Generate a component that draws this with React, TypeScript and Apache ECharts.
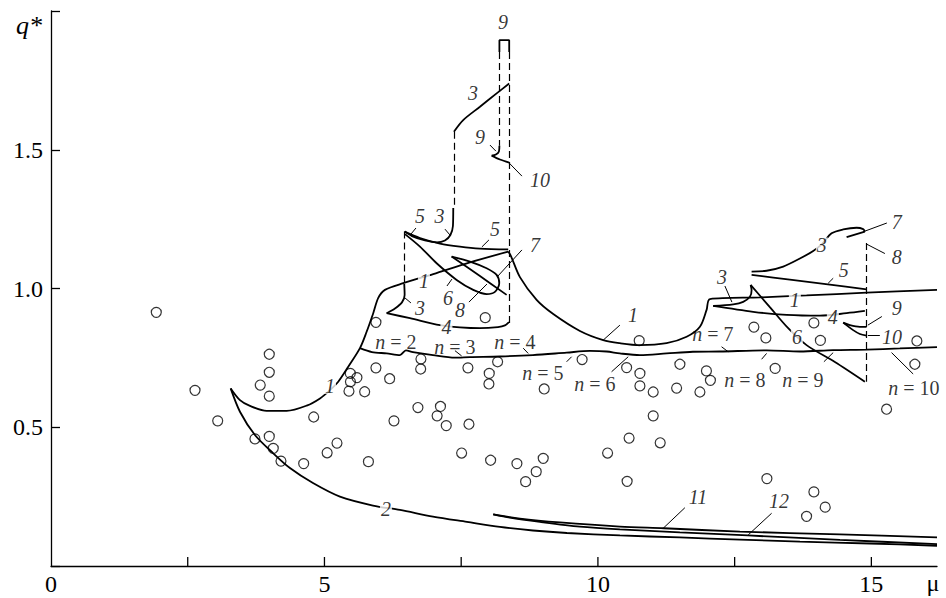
import React, { useEffect, useRef } from "react";
import * as echarts from "echarts";

type Pt = [number, number];

const MU_MAX = 16.2;
const Q_MAX = 2;

const X_TICKS = [2.5, 5, 7.5, 10, 12.5, 15];
const X_TICK_LABELS = [0, 5, 10, 15];
const Y_TICK_LABELS = [0.5, 1, 1.5];

// measured q* values
const OBSERVED: Pt[] = [
  [1.925, 0.914], [2.633, 0.633], [3.048, 0.523], [3.991, 0.763], [3.991, 0.698],
  [3.826, 0.652], [3.991, 0.612], [4.803, 0.537], [3.729, 0.458], [3.991, 0.467],
  [4.064, 0.424], [4.205, 0.378], [4.62, 0.369], [5.229, 0.443], [5.049, 0.408],
  [5.804, 0.376], [6.271, 0.523], [5.472, 0.694], [5.594, 0.679], [5.475, 0.664],
  [5.448, 0.63], [5.735, 0.628], [5.941, 0.714], [6.192, 0.675], [5.941, 0.878],
  [6.764, 0.746], [6.759, 0.71], [7.623, 0.714], [8.013, 0.694], [8.007, 0.656],
  [8.166, 0.736], [7.94, 0.895], [9.018, 0.638], [9.711, 0.744], [6.709, 0.571],
  [7.121, 0.575], [7.06, 0.541], [7.227, 0.506], [7.642, 0.511], [7.508, 0.407],
  [8.038, 0.381], [8.519, 0.369], [9.0, 0.388], [8.872, 0.34], [8.678, 0.304],
  [10.177, 0.407], [10.755, 0.812], [10.525, 0.715], [10.768, 0.694], [11.499, 0.727],
  [11.984, 0.703], [12.057, 0.669], [10.768, 0.649], [11.011, 0.627], [11.439, 0.641],
  [11.865, 0.627], [12.852, 0.861], [13.071, 0.822], [13.949, 0.876], [14.068, 0.813],
  [15.832, 0.811], [15.795, 0.727], [13.241, 0.712], [11.011, 0.541], [10.57, 0.461],
  [11.139, 0.444], [15.278, 0.565], [10.534, 0.305], [13.09, 0.315], [13.949, 0.267],
  [14.156, 0.212], [13.815, 0.179],
];

// computed branches
const CURVE_1A: Pt[] = [
  [3.285, 0.64], [3.455, 0.598], [3.638, 0.577], [3.943, 0.559], [4.309, 0.559],
  [4.675, 0.578], [4.918, 0.604], [5.101, 0.634], [5.252, 0.664], [5.435, 0.718],
  [5.649, 0.785], [5.771, 0.844], [5.892, 0.911], [5.984, 0.966], [6.106, 0.995],
  [6.441, 1.019], [6.989, 1.052], [7.66, 1.094], [8.36, 1.133],
];
const CURVE_1B: Pt[] = [
  [8.36, 1.133], [8.41, 1.117], [8.574, 1.041], [8.879, 0.959], [9.183, 0.908],
  [9.671, 0.847], [10.097, 0.814], [10.402, 0.803], [10.768, 0.796], [11.256, 0.803],
  [11.622, 0.826], [11.865, 0.862], [11.987, 0.923], [12.048, 0.962], [12.962, 0.968],
  [13.815, 0.975], [14.912, 0.985], [16.2, 0.995],
];
const CURVE_2: Pt[] = [
  [3.285, 0.64], [3.455, 0.556], [3.729, 0.472], [4.059, 0.407], [4.369, 0.353],
  [4.79, 0.299], [5.283, 0.25], [5.887, 0.218], [6.38, 0.202], [6.984, 0.178],
  [7.605, 0.159], [8.208, 0.141], [8.812, 0.128], [9.433, 0.119], [10.402, 0.11],
  [11.499, 0.103], [12.596, 0.095], [13.693, 0.088], [14.973, 0.081], [16.2, 0.073],
];
const CURVE_3A: Pt[] = [[6.459, 1.016], [6.466, 0.977], [6.417, 0.95], [6.289, 0.928], [6.137, 0.911]];
const CURVE_3B: Pt[] = [[7.367, 1.565], [7.537, 1.607], [7.843, 1.655], [8.148, 1.703], [8.378, 1.739]];
const CURVE_3C: Pt[] = [
  [7.355, 1.29], [7.349, 1.225], [7.303, 1.193], [7.203, 1.173], [7.057, 1.166],
  [6.837, 1.173], [6.6, 1.189], [6.466, 1.205],
];
const CURVE_3D: Pt[] = [[12.108, 0.937], [12.474, 0.943], [12.656, 0.952], [12.779, 0.97], [12.81, 0.995], [12.792, 1.013]];
const CURVE_3E: Pt[] = [
  [12.81, 1.061], [13.084, 1.064], [13.388, 1.079], [13.693, 1.108], [13.936, 1.135],
  [14.095, 1.16], [14.272, 1.199], [14.485, 1.213], [14.729, 1.219], [14.85, 1.214], [14.881, 1.205],
];
const CURVE_4A: Pt[] = [
  [6.137, 0.911], [6.563, 0.893], [7.112, 0.868], [7.477, 0.86], [7.843, 0.857],
  [8.172, 0.861], [8.3, 0.867], [8.373, 0.879],
];
const CURVE_4B: Pt[] = [[12.108, 0.937], [12.839, 0.916], [13.45, 0.905], [14.059, 0.902], [14.547, 0.911], [14.881, 0.919]];
const CURVE_5A: Pt[] = [[6.466, 1.205], [6.746, 1.182], [7.112, 1.162], [7.477, 1.151], [7.843, 1.144], [8.36, 1.141]];
const CURVE_5B: Pt[] = [[12.81, 1.049], [13.51, 1.032], [14.241, 1.014], [14.912, 0.997]];
const CURVE_6A: Pt[] = [
  [6.472, 1.196], [6.746, 1.151], [7.051, 1.091], [7.417, 1.031], [7.72, 0.995],
  [7.965, 0.98], [8.117, 0.988], [8.196, 1.019], [8.148, 1.049], [7.965, 1.073],
  [7.66, 1.097], [7.325, 1.115],
];
const CURVE_6B: Pt[] = [[12.792, 1.013], [13.144, 0.933], [13.479, 0.857], [13.815, 0.796], [14.333, 0.735], [14.881, 0.664]];
const CURVE_7B: Pt[] = [[14.881, 1.205], [14.547, 1.185]];
const CURVE_8A: Pt[] = [[7.325, 1.115], [7.843, 1.045], [8.331, 0.977]];
const CURVE_9A: Pt[] = [[8.199, 1.514], [8.19, 1.494], [8.135, 1.483], [8.057, 1.479]];
const CURVE_9B: Pt[] = [[14.485, 0.877], [14.607, 0.868], [14.79, 0.862], [14.912, 0.862]];
const CURVE_10A: Pt[] = [[8.057, 1.479], [8.208, 1.465], [8.378, 1.454]];
const CURVE_10B: Pt[] = [[14.485, 0.877], [14.667, 0.85], [14.79, 0.836], [14.912, 0.83]];
const CURVE_11: Pt[] = [
  [8.086, 0.186], [8.574, 0.171], [9.305, 0.157], [10.402, 0.142], [11.207, 0.136],
  [12.596, 0.124], [14.424, 0.114], [16.2, 0.103],
];
const CURVE_12: Pt[] = [
  [8.086, 0.186], [8.391, 0.174], [8.94, 0.159], [9.671, 0.142], [10.402, 0.132],
  [11.499, 0.121], [12.742, 0.11], [14.424, 0.094], [16.2, 0.079],
];
// boundary of the n = 2 ... 10 modes
const MODE_LINE: Pt[] = [
  [5.649, 0.785], [5.868, 0.771], [6.137, 0.766], [6.38, 0.76], [6.49, 0.777],
  [6.618, 0.771], [6.984, 0.76], [7.386, 0.751], [7.66, 0.753], [8.208, 0.755],
  [8.812, 0.76], [9.428, 0.769], [9.854, 0.775], [10.159, 0.773], [10.402, 0.766],
  [10.768, 0.76], [11.256, 0.766], [11.737, 0.772], [12.23, 0.773], [13.084, 0.777],
  [13.693, 0.773], [14.296, 0.778], [14.912, 0.78], [15.521, 0.784], [16.2, 0.789],
];
const BRACKET_9: Pt[] = [[8.199, 1.852], [8.199, 1.895], [8.378, 1.895], [8.378, 1.852]];

const DASHED: Pt[][] = [
  [[6.466, 1.205], [6.466, 1.016]],
  [[7.367, 1.565], [7.367, 1.29]],
  [[8.199, 1.852], [8.199, 1.514]],
  [[8.378, 1.852], [8.378, 0.872]],
  [[14.912, 1.164], [14.912, 0.664]],
];

const LEADERS: Pt[][] = [
  [[10.097, 0.814], [10.402, 0.868]],
  [[6.581, 1.196], [6.673, 1.218]],
  [[7.203, 1.214], [7.294, 1.193]],
  [[7.879, 1.15], [8.007, 1.175]],
  [[6.472, 0.966], [6.581, 0.948]],
  [[7.24, 1.009], [7.331, 1.034]],
  [[7.642, 0.951], [7.971, 1.016]],
  [[8.611, 1.139], [8.172, 1.045]],
  [[8.026, 1.517], [8.135, 1.495]],
  [[8.378, 1.452], [8.611, 1.405]],
  [[12.322, 1.009], [12.45, 0.951]],
  [[14.21, 1.019], [14.302, 1.037]],
  [[14.845, 1.204], [15.283, 1.236]],
  [[14.912, 1.16], [15.247, 1.126]],
  [[14.936, 0.868], [15.192, 0.899]],
  [[14.936, 0.83], [15.155, 0.83]],
  [[11.194, 0.136], [11.59, 0.21]],
  [[12.748, 0.112], [13.176, 0.19]],
  [[7.386, 0.776], [7.508, 0.757]],
  [[8.634, 0.785], [8.726, 0.766]],
  [[9.428, 0.736], [9.519, 0.754]],
  [[10.25, 0.7], [10.554, 0.754]],
  [[12.261, 0.79], [12.382, 0.772]],
  [[12.993, 0.745], [13.084, 0.766]],
  [[14.132, 0.736], [14.302, 0.769]],
  [[15.764, 0.692], [15.369, 0.769]],
];

// curve numbers: [text, mu, q, breaks the line]
const CURVE_LABELS: [string, number, number, boolean][] = [
  ["1", 5.101, 0.649, true], ["1", 6.819, 1.027, true], ["1", 10.64, 0.905, false],
  ["1", 13.601, 0.959, true], ["2", 6.124, 0.204, true], ["3", 7.715, 1.705, false],
  ["5", 6.746, 1.261, false], ["3", 7.102, 1.261, false], ["5", 8.117, 1.213, false],
  ["3", 6.746, 0.928, false], ["4", 7.23, 0.863, true], ["6", 7.258, 0.966, false],
  ["8", 7.477, 0.921, false], ["7", 8.848, 1.157, false], ["9", 8.263, 1.96, false],
  ["9", 7.843, 1.546, false], ["10", 8.94, 1.391, false], ["3", 12.267, 1.04, false],
  ["3", 14.095, 1.155, true], ["7", 15.466, 1.241, false], ["8", 15.466, 1.115, false],
  ["5", 14.497, 1.065, false], ["4", 14.296, 0.897, true], ["9", 15.466, 0.928, false],
  ["10", 15.375, 0.827, false], ["6", 13.638, 0.825, true], ["11", 11.828, 0.249, false],
  ["12", 13.309, 0.234, false],
];

// mode numbers: [n, mu, q]
const MODE_LABELS: [number, number, number][] = [
  [2, 6.307, 0.809], [3, 7.386, 0.789], [4, 8.483, 0.807], [5, 8.995, 0.695],
  [6, 9.945, 0.656], [7, 12.102, 0.836], [8, 12.687, 0.67], [9, 13.748, 0.67],
  [10, 15.777, 0.641],
];

const SOLID: { data: Pt[]; smooth: number | false }[] = [
  { data: CURVE_1A, smooth: 0.3 }, { data: CURVE_1B, smooth: 0.3 },
  { data: CURVE_2, smooth: 0.3 }, { data: CURVE_3A, smooth: 0.3 },
  { data: CURVE_3B, smooth: 0.3 }, { data: CURVE_3C, smooth: 0.3 },
  { data: CURVE_3D, smooth: 0.3 }, { data: CURVE_3E, smooth: 0.3 },
  { data: CURVE_4A, smooth: 0.3 }, { data: CURVE_4B, smooth: 0.3 },
  { data: CURVE_5A, smooth: 0.3 }, { data: CURVE_5B, smooth: 0.3 },
  { data: CURVE_6A, smooth: 0.3 }, { data: CURVE_6B, smooth: 0.3 },
  { data: CURVE_7B, smooth: false }, { data: CURVE_8A, smooth: 0.3 },
  { data: CURVE_9A, smooth: 0.3 }, { data: CURVE_9B, smooth: 0.3 },
  { data: CURVE_10A, smooth: 0.3 }, { data: CURVE_10B, smooth: 0.3 },
  { data: CURVE_11, smooth: 0.3 }, { data: CURVE_12, smooth: 0.3 },
  { data: MODE_LINE, smooth: 0.3 }, { data: BRACKET_9, smooth: false },
];

const FONT = "Liberation Serif, Times New Roman, serif";
const INK = "#000";

export default function App() {
  const ref = useRef<HTMLDivElement>(null);

  useEffect(() => {
    const el = ref.current;
    if (!el) return;
    const chart = echarts.init(el, null, { renderer: "svg" });

    const curveSeries = SOLID.map((c) => ({
      type: "line",
      data: c.data,
      smooth: c.smooth,
      symbol: "none",
      showSymbol: false,
      silent: true,
      z: 3,
      lineStyle: { color: INK, width: 1.8 },
    }));

    const labelData = [
      ...CURVE_LABELS.map(([t, x, y, boxed]) => ({
        name: t,
        value: [x, y],
        label: boxed ? { backgroundColor: "#fff", padding: [0, 1] } : {},
      })),
      ...MODE_LABELS.map(([n, x, y]) => ({
        name: `{i|n} = ${n}`,
        value: [x, y],
        label: { fontStyle: "normal" },
      })),
    ];

    chart.setOption({
      animation: false,
      backgroundColor: "#fff",
      textStyle: { fontFamily: FONT },
      grid: { left: 51, top: 11, width: 886, height: 555, containLabel: false },
      xAxis: {
        type: "value",
        min: 0,
        max: MU_MAX,
        interval: 5,
        splitLine: { show: false },
        axisTick: { show: false },
        axisLine: { lineStyle: { color: INK, width: 1.3 } },
        axisLabel: {
          showMaxLabel: false,
          margin: 6,
          color: INK,
          fontSize: 24,
          fontFamily: FONT,
          formatter: (v: number) => (X_TICK_LABELS.includes(v) ? String(v) : ""),
        },
      },
      yAxis: {
        type: "value",
        min: 0,
        max: Q_MAX,
        interval: 0.5,
        splitLine: { show: false },
        axisTick: { inside: true, length: 9, lineStyle: { color: INK, width: 1.3 } },
        axisLine: { lineStyle: { color: INK, width: 1.3 } },
        axisLabel: {
          margin: 8,
          color: INK,
          fontSize: 24,
          fontFamily: FONT,
          formatter: (v: number) => (Y_TICK_LABELS.includes(v) ? v.toFixed(1) : ""),
        },
      },
      graphic: [
        {
          type: "text",
          x: 29,
          y: 25,
          style: {
            text: "q*",
            fontFamily: FONT,
            fontStyle: "italic",
            fontSize: 26,
            fill: INK,
            textAlign: "center",
            textVerticalAlign: "middle",
          },
        },
        {
          type: "text",
          x: 933,
          y: 583,
          style: {
            text: "μ",
            fontFamily: FONT,
            fontSize: 24,
            fill: INK,
            textAlign: "center",
            textVerticalAlign: "middle",
          },
        },
      ],
      series: [
        ...curveSeries,
        {
          type: "lines",
          coordinateSystem: "cartesian2d",
          silent: true,
          z: 2,
          lineStyle: { color: INK, width: 1.2, type: [7, 4], opacity: 1 },
          data: DASHED.map((c) => ({ coords: c })),
        },
        {
          type: "lines",
          coordinateSystem: "cartesian2d",
          silent: true,
          z: 2,
          lineStyle: { color: INK, width: 1, opacity: 1 },
          data: LEADERS.map((c) => ({ coords: c })),
        },
        {
          type: "custom",
          silent: true,
          z: 2,
          data: X_TICKS.map((v) => [v, 0]),
          renderItem: (_p: any, api: any) => {
            const p = api.coord([api.value(0), 0]);
            return {
              type: "line",
              shape: { x1: p[0], y1: p[1], x2: p[0], y2: p[1] - 9 },
              style: { stroke: INK, lineWidth: 1.3 },
            };
          },
        },
        {
          type: "scatter",
          data: OBSERVED,
          symbol: "circle",
          symbolSize: 10,
          silent: true,
          z: 5,
          itemStyle: { color: "transparent", borderColor: INK, borderWidth: 1.2 },
        },
        {
          type: "scatter",
          data: labelData,
          symbolSize: 1,
          silent: true,
          z: 10,
          itemStyle: { color: "transparent" },
          label: {
            show: true,
            position: "inside",
            formatter: (p: any) => p.name,
            color: INK,
            fontFamily: FONT,
            fontStyle: "italic",
            fontSize: 20,
            lineHeight: 16,
            rich: { i: { fontStyle: "italic", fontFamily: FONT, fontSize: 20, lineHeight: 16, color: INK } },
          },
        },
      ],
    });

    return () => chart.dispose();
  }, []);

  return (
    <div
      ref={ref}
      style={{ position: "fixed", left: 0, top: 0, width: 946, height: 598, background: "#fff" }}
    />
  );
}
